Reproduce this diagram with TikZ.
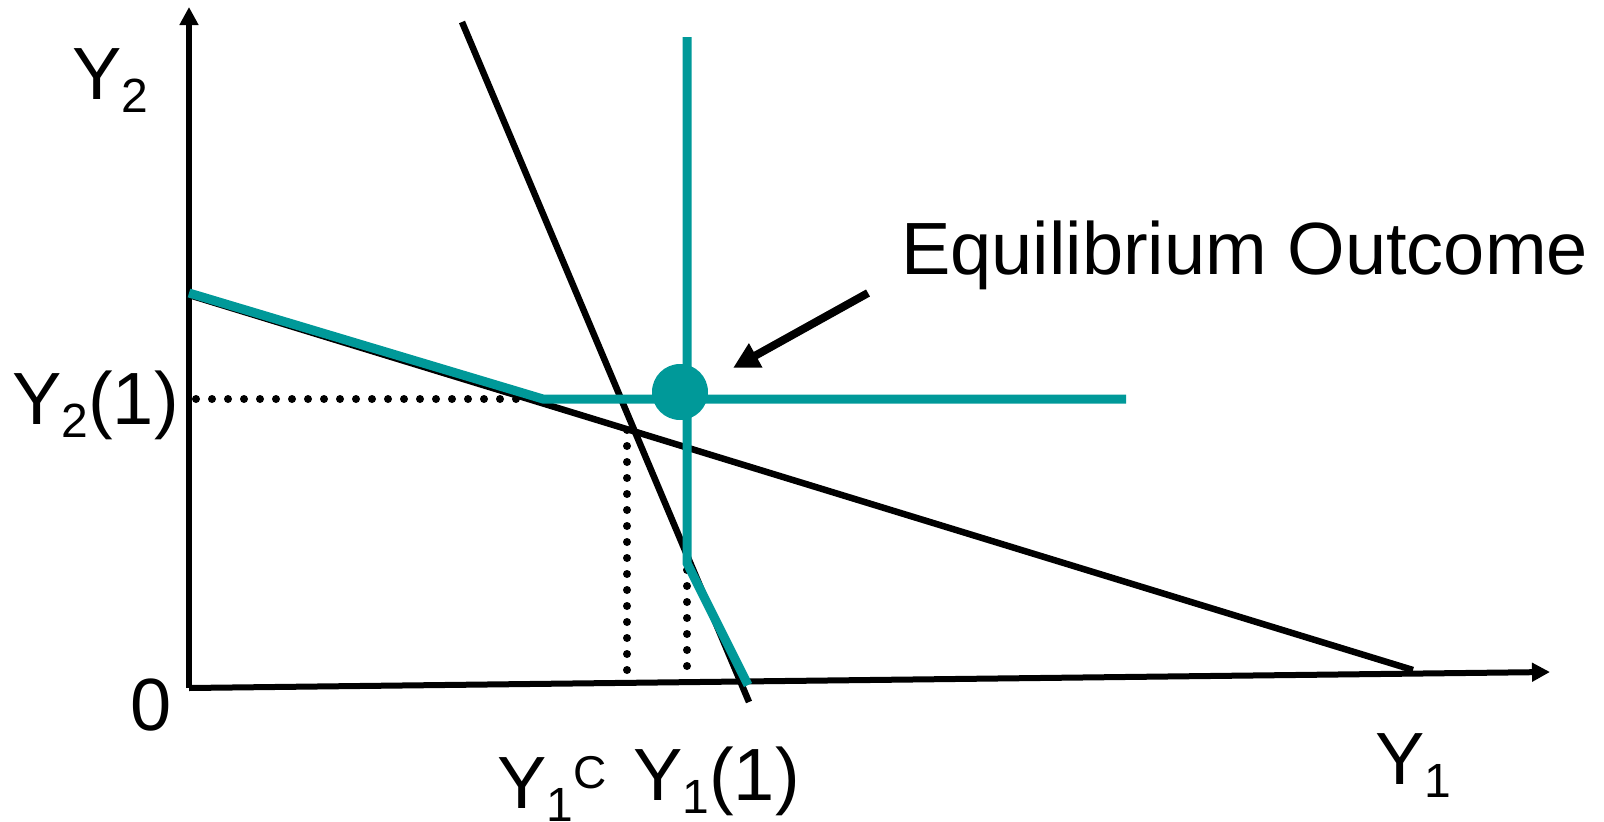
\documentclass[tikz,border=0pt]{standalone}
\usepackage{fontspec}
\setmainfont{Liberation Sans}
\usetikzlibrary{arrows.meta}
\definecolor{reactcolor}{RGB}{0,153,153}
\newcommand{\lowsub}[1]{\raisebox{-13pt}{\fontsize{48}{48}\selectfont #1}}
\newcommand{\highsup}[1]{\raisebox{20pt}{\fontsize{46}{46}\selectfont #1}}

\begin{document}
\begin{tikzpicture}[x=1pt,y=-1pt,
    axisline/.style={line width=6pt,-{Triangle[length=18pt,width=18pt]}},
    budgetline/.style={line width=6.5pt},
    reactline/.style={draw=reactcolor,line width=9pt},
    guideline/.style={line width=8pt,line cap=round,dash pattern=on 0pt off 16pt},
    lbl/.style={inner sep=0pt,anchor=base west,font=\fontsize{74}{80}\selectfont}]
        \useasboundingbox (0,0) rectangle (1604,822);
        % axes
        \coordinate (orig) at (189,688);
        \coordinate (ytop) at (189,7);
        \coordinate (xend) at (1550,672);
        \draw[axisline] (orig) -- (ytop);
        \draw[axisline] (orig) -- (xend);
        % dotted guides
        \coordinate (guideA) at (196,399);
        \coordinate (guideB) at (522,399);
        \coordinate (guideC) at (627,430);
        \coordinate (guideD) at (627,673);
        \coordinate (guideE) at (687,570);
        \coordinate (guideF) at (687,668);
        \draw[guideline] (guideA) -- (guideB);
        \draw[guideline] (guideC) -- (guideD);
        \draw[guideline] (guideE) -- (guideF);
        % black lines
        \coordinate (steepA) at (462,22);
        \coordinate (steepB) at (749,702);
        \coordinate (flatA) at (189,295);
        \coordinate (flatB) at (1413,670);
        \draw[budgetline] (steepA) -- (steepB);
        \draw[budgetline] (flatA) -- (flatB);
        % reaction lines
        \coordinate (reactA) at (189,293);
        \coordinate (reactB) at (543,399);
        \coordinate (reactC) at (1126,399);
        \coordinate (reactD) at (687,37);
        \coordinate (reactE) at (687,563);
        \coordinate (reactF) at (748,685);
        \draw[reactline] (reactA) -- (reactB) -- (reactC);
        \draw[reactline] (reactD) -- (reactE) -- (reactF);
        \node[circle,fill=reactcolor,minimum size=56pt,inner sep=0pt] (eq) at (680,392) {};
        % annotation
        \node[lbl] (eqtext) at (901,274) {Equilibrium Outcome};
        \coordinate (pointtail) at (868,293);
        \coordinate (pointtip) at (733,368);
        \draw[line width=8pt,-{Triangle[length=26pt,width=26pt]}] (pointtail) -- (pointtip);
        % axis labels
        \node[lbl] (ylab) at (72,99) {Y\lowsub{2}};
        \node[lbl] (yone) at (12,424) {Y\lowsub{2}(1)};
        \node[lbl] (zero) at (130,730) {0};
        \node[lbl] (xcol) at (497,808) {Y\lowsub{1}\highsup{C}};
        \node[lbl] (xone) at (633,800) {Y\lowsub{1}(1)};
        \node[lbl] (xlab) at (1375,784) {Y\lowsub{1}};
      \end{tikzpicture}
\end{document}
